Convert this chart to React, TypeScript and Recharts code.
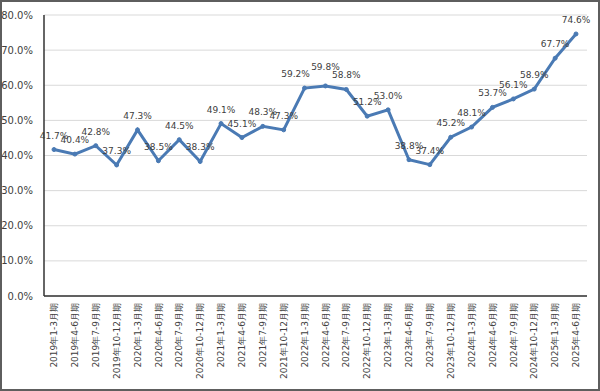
import React from "react";
import { LineChart, Line, XAxis, YAxis, CartesianGrid } from "recharts";

const categories = [
  "2019年1-3月期", "2019年4-6月期", "2019年7-9月期", "2019年10-12月期",
  "2020年1-3月期", "2020年4-6月期", "2020年7-9月期", "2020年10-12月期",
  "2021年1-3月期", "2021年4-6月期", "2021年7-9月期", "2021年10-12月期",
  "2022年1-3月期", "2022年4-6月期", "2022年7-9月期", "2022年10-12月期",
  "2023年1-3月期", "2023年4-6月期", "2023年7-9月期", "2023年10-12月期",
  "2024年1-3月期", "2024年4-6月期", "2024年7-9月期", "2024年10-12月期",
  "2025年1-3月期", "2025年4-6月期",
];

const values = [
  41.7, 40.4, 42.8, 37.3,
  47.3, 38.5, 44.5, 38.3,
  49.1, 45.1, 48.3, 47.3,
  59.2, 59.8, 58.8, 51.2,
  53.0, 38.8, 37.4, 45.2,
  48.1, 53.7, 56.1, 58.9,
  67.7, 74.6,
];

const yTicks = [0, 10, 20, 30, 40, 50, 60, 70, 80];

const data = categories.map((c, i) => ({ name: c, value: values[i] }));

const FONT = "'DejaVu Sans', Verdana, sans-serif";
const TEXT = "#404040";
const LINE = "#4a7ab4";

// small label nudges (as in the reference, to avoid collisions at the peak)
const labelNudge: Record<number, { dx: number; dy: number }> = {
  12: { dx: -9, dy: 0 },
  13: { dx: 0, dy: -5 },
};

const XTick = (props: any) => {
  const { x, y, payload } = props;
  return (
    <text
      x={x}
      y={y + 7}
      transform={`rotate(-90, ${x}, ${y + 7})`}
      textAnchor="end"
      dy="0.35em"
      fontSize={9}
      fontFamily={FONT}
      fill={TEXT}
    >
      {payload.value}
    </text>
  );
};

const renderLabel = (props: any) => {
  const { x, y, value, index } = props;
  const n = labelNudge[index] || { dx: 0, dy: 0 };
  return (
    <text
      x={x + n.dx}
      y={y - 11 + n.dy}
      textAnchor="middle"
      fontSize={9}
      fontFamily={FONT}
      fill={TEXT}
    >
      {Number(value).toFixed(1)}%
    </text>
  );
};

export default function App() {
  return (
    <div
      style={{
        position: "absolute",
        left: 0,
        top: 0,
        width: 600,
        height: 391,
        boxSizing: "border-box",
        border: "2px solid #5e5e5e",
        background: "#fff",
      }}
    >
      <div style={{ position: "absolute", left: -2, top: -2 }}>
        <LineChart
          width={600}
          height={391}
          data={data}
          margin={{ top: 15, right: 13, bottom: 0, left: 0 }}
        >
          <CartesianGrid vertical={false} stroke="#d9d9d9" strokeWidth={1} />
          <XAxis
            dataKey="name"
            interval={0}
            height={95}
            tickLine={false}
            tickSize={0}
            tickMargin={0}
            tick={<XTick />}
            padding={{ left: 10, right: 11 }}
            axisLine={{ stroke: "#333", strokeWidth: 1.5 }}
          />
          <YAxis
            width={44}
            domain={[0, 80]}
            ticks={yTicks}
            interval={0}
            tickLine={false}
            tickSize={0}
            tickMargin={11}
            tickFormatter={(v: number) => v.toFixed(1) + "%"}
            tick={{ fontSize: 10, fontFamily: FONT, fill: TEXT }}
            axisLine={{ stroke: "#333", strokeWidth: 1.5 }}
          />
          <Line
            type="linear"
            dataKey="value"
            stroke={LINE}
            strokeWidth={3}
            dot={{ r: 2, fill: LINE, stroke: LINE, strokeWidth: 1 }}
            label={renderLabel}
            isAnimationActive={false}
          />
        </LineChart>
      </div>
    </div>
  );
}
